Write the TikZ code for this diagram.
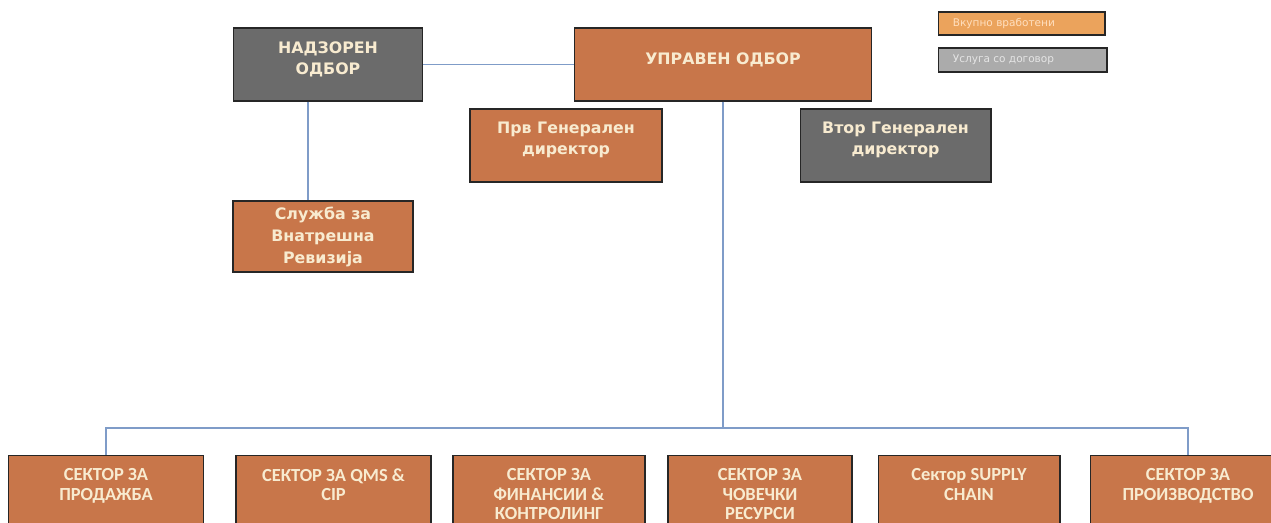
\documentclass[tikz,border=0pt]{standalone}
\usepackage{fontspec}
\setmainfont{DejaVu Sans}
\newfontfamily\calibfont{Carlito}
\usetikzlibrary{positioning}

\definecolor{orgbox}{HTML}{C8764A}
\definecolor{grybox}{HTML}{6B6B6B}
\definecolor{lnblue}{HTML}{7F9CC8}
\definecolor{txtcream}{HTML}{F8EBD0}
\definecolor{legorg}{HTML}{EBA35C}
\definecolor{leggry}{HTML}{ABABAB}

\tikzset{
  box/.style={rectangle, draw=black!85, line width=0.6pt, inner sep=0pt},
  orgbx/.style={box, fill=orgbox},
  grybx/.style={box, fill=grybox},
  toptext/.style={text=txtcream, align=center, inner sep=0pt,
    font=\bfseries\fontsize{9}{12}\selectfont},
  sectext/.style={text=txtcream, align=center, inner sep=0pt,
    font=\calibfont\bfseries\fontsize{10.5}{11.2}\selectfont},
  legtext/.style={anchor=west, inner sep=0pt,
    font=\fontsize{6}{7}\selectfont},
  link/.style={draw=lnblue, line width=0.6pt},
  sector/.style={orgbx, minimum width=3.9cm, minimum height=1.7cm, anchor=north}
}

\begin{document}
\begin{tikzpicture}[x=0.02cm, y=-0.02cm]
  \useasboundingbox[fill=white] (0,0) rectangle (1271,523);

  % legend
  \node[box, fill=legorg, minimum width=3.34cm, minimum height=0.46cm] (legvk) at (1021.5,23.5) {};
  \node[legtext, text=orange!25] (legvk-t) at ([xshift=0.3cm]legvk.west) {Вкупно вработени};
  \node[box, fill=leggry, minimum width=3.38cm, minimum height=0.48cm] (legdog) at (1022.5,60) {};
  \node[legtext, text=white!90!black] (legdog-t) at ([xshift=0.3cm]legdog.west) {Услуга со договор};

  % top level
  \node[grybx, minimum width=3.78cm, minimum height=1.46cm] (nadzoren) at (328,64.5) {};
  \node[toptext] (nadzoren-t) at ([yshift=0.1cm]nadzoren.center) {НАДЗОРЕН\\ОДБОР};
  \node[orgbx, minimum width=5.94cm, minimum height=1.46cm] (upraven) at (723,64.5) {};
  \node[toptext] (upraven-t) at ([yshift=0.1cm]upraven.center) {УПРАВЕН ОДБОР};

  \node[orgbx, minimum width=3.84cm, minimum height=1.46cm] (prvgd) at (566,145.5) {};
  \node[toptext] (prvgd-t) at ([yshift=0.12cm]prvgd.center) {Прв Генерален\\директор};
  \node[grybx, minimum width=3.82cm, minimum height=1.46cm] (vtorgd) at (895.5,145.5) {};
  \node[toptext] (vtorgd-t) at ([yshift=0.12cm]vtorgd.center) {Втор Генерален\\директор};

  \node[orgbx, minimum width=3.6cm, minimum height=1.42cm] (revizija) at (323,236.5) {};
  \node[sectext, font=\bfseries\fontsize{9}{12.5}\selectfont] (revizija-t) at (revizija.center) {Служба за\\Внатрешна\\Ревизија};

  % sectors
  \node[sector] (prodazhba) at (106,455) {};
  \node[sectext, below=0.26cm of prodazhba.north] (prodazhba-t) {СЕКТОР ЗА\\ПРОДАЖБА};
  \node[sector] (qms) at (333.5,455) {};
  \node[sectext, below=0.26cm of qms.north] (qms-t) {СЕКТОР ЗА QMS \&\\CIP};
  \node[sector, minimum width=3.84cm] (finansii) at (549,455) {};
  \node[sectext, below=0.26cm of finansii.north] (finansii-t) {СЕКТОР ЗА\\ФИНАНСИИ \&\\КОНТРОЛИНГ};
  \node[sector, minimum width=3.68cm] (resursi) at (760,455) {};
  \node[sectext, below=0.26cm of resursi.north] (resursi-t) {СЕКТОР ЗА\\ЧОВЕЧКИ\\РЕСУРСИ};
  \node[sector, minimum width=3.64cm] (supply) at (969,455) {};
  \node[sectext, below=0.26cm of supply.north] (supply-t) {Сектор SUPPLY\\CHAIN};
  \node[sector] (proizvodstvo) at (1188,455) {};
  \node[sectext, below=0.26cm of proizvodstvo.north] (proizvodstvo-t) {СЕКТОР ЗА\\ПРОИЗВОДСТВО};

  % connectors
  \coordinate (bus) at (723,428);
  \draw[link] (nadzoren.east) -- (upraven.west);
  \draw[link] ([xshift=-0.4cm]nadzoren.south) -- ([xshift=-0.4cm]nadzoren.south |- revizija.north);
  \draw[link] (upraven.south) -- (bus);
  \draw[link] (prodazhba.north) |- (bus) -| (proizvodstvo.north);
\end{tikzpicture}
\end{document}
